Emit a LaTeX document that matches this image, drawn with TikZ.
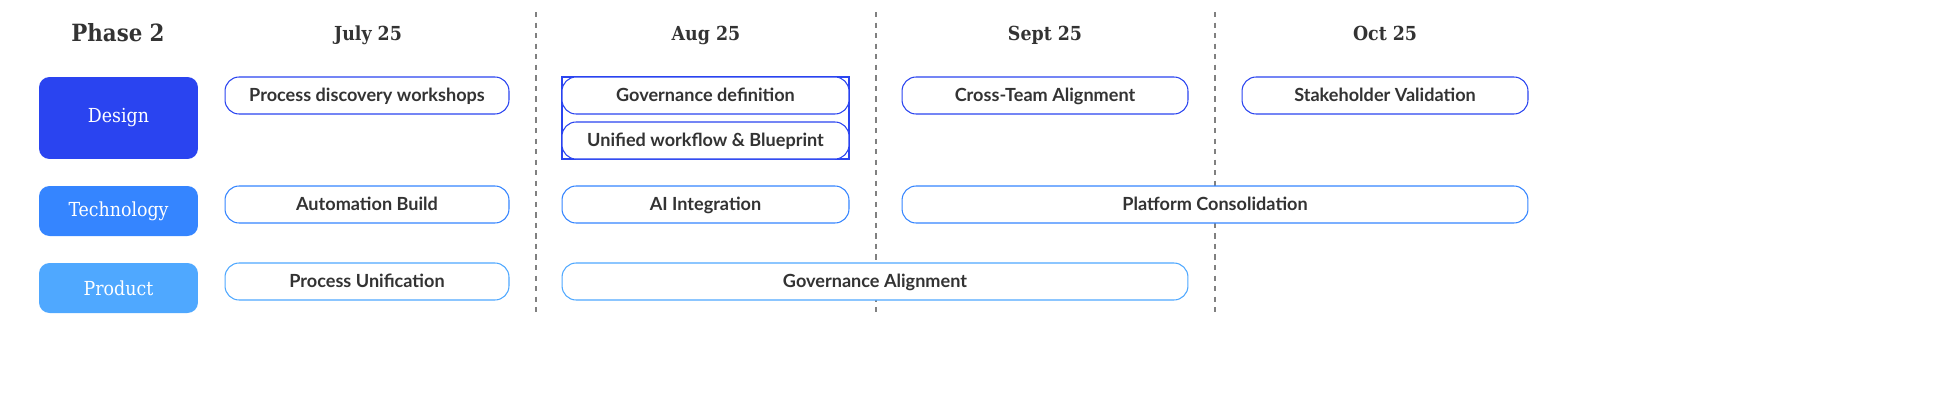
\documentclass[tikz,border=0pt]{standalone}
\usepackage{fontspec}
\setmainfont{Lato}
\newfontfamily\slab{DejaVu Serif Condensed}
\usetikzlibrary{positioning}
\definecolor{designblue}{HTML}{2A44F0}
\definecolor{techblue}{HTML}{3585FF}
\definecolor{prodblue}{HTML}{4FA8FF}
\definecolor{inkgrey}{HTML}{333333}
\tikzset{
    month/.style={anchor=base, font=\slab\bfseries\fontsize{11}{13}\selectfont, text=inkgrey},
    track/.style={rectangle, rounded corners=6pt, inner sep=0pt, text=white, font=\slab\fontsize{11}{13}\selectfont},
    task/.style={rectangle, rounded corners=8pt, draw, line width=0.6pt, fill=white, inner sep=0pt, minimum height=0.74cm, text=inkgrey, text depth=0.2ex, font=\bfseries\fontsize{10.3}{12}\selectfont},
    divider/.style={draw=gray, dash pattern=on 3pt off 3pt, line width=0.6pt}
}
\begin{document}
\begin{tikzpicture}[x=0.02cm, y=-0.02cm]
    \useasboundingbox (0,0) rectangle (1956,416);
    % headers
    \node [month, font=\slab\bfseries\fontsize{13.5}{16}\selectfont] at (118,41) (phase) {Phase 2};
    \node [month] at (368,40) (jul) {July 25};
    \node [month] at (706,40) (aug) {Aug 25};
    \node [month] at (1045,40) (sep) {Sept 25};
    \node [month] at (1385,40) (oct) {Oct 25};

    % dividers
    \foreach \x/\n in {536/a, 876/b, 1215/c} {
        \coordinate (top\n) at (\x,12);
        \coordinate (bot\n) at (\x,313);
        \draw [divider] (top\n) -- (bot\n);
    }

    % tracks
    \node [track, fill=designblue, minimum width=3.18cm, minimum height=1.64cm] at (118.5,118) (design) {Design};
    \node [track, fill=techblue, minimum width=3.18cm, minimum height=1cm] at (118.5,211) (tech) {Technology};
    \node [track, fill=prodblue, minimum width=3.18cm, minimum height=1cm] at (118.5,288) (prod) {Product};

    % design row
    \draw [designblue, line width=0.6pt] (562,77) rectangle (849,159);
    \node [task, draw=designblue, minimum width=5.68cm] at (367,95.5) (discovery) {Process discovery workshops};
    \node [task, draw=designblue, minimum width=5.74cm] at (705.5,95.5) (govdef) {Governance definition};
    \node [task, draw=designblue, minimum width=5.74cm] at (705.5,140.5) (unified) {Unified workflow \& Blueprint};
    \node [task, draw=designblue, minimum width=5.72cm] at (1045,95.5) (crossteam) {Cross-Team Alignment};
    \node [task, draw=designblue, minimum width=5.72cm] at (1385,95.5) (stakeholder) {Stakeholder Validation};

    % technology row
    \node [task, draw=techblue, minimum width=5.68cm] at (367,204.5) (automation) {Automation Build};
    \node [task, draw=techblue, minimum width=5.74cm] at (705.5,204.5) (ai) {AI Integration};
    \node [task, draw=techblue, minimum width=12.52cm] at (1215,204.5) (platform) {Platform Consolidation};

    % product row
    \node [task, draw=prodblue, minimum width=5.68cm] at (367,281.5) (unification) {Process Unification};
    \node [task, draw=prodblue, minimum width=12.52cm] at (875,281.5) (govalign) {Governance Alignment};
\end{tikzpicture}
\end{document}
